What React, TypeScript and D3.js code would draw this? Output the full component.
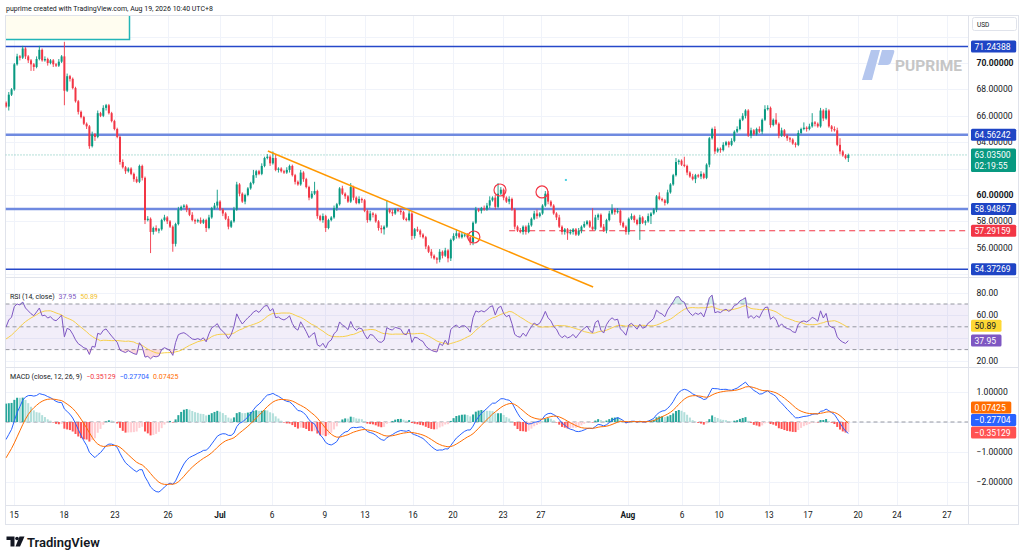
import { useEffect, useRef } from "react"
import * as d3 from "d3"

// 4H closes, Jun 15 -> Aug 19
const juneCloses = [
  66.7, 67.6, 68.0, 69.9, 70.5, 70.4, 71.1, 70.5, 70.2, 69.9,
  69.7, 70.3, 71.0, 70.2, 70.3, 70.0, 70.2, 69.9, 69.8, 70.1,
  70.5, 67.9, 69.0, 68.8, 68.1, 67.1, 66.3, 65.9, 65.4, 65.2,
  63.7, 64.6, 64.4, 66.2, 66.0, 66.6, 66.8, 66.2, 65.6, 65.0,
  64.4, 62.5, 62.1, 61.8, 62.0, 61.6, 61.2, 61.0, 62.2, 61.3,
  58.1, 58.2, 57.2, 57.5, 57.3, 57.4, 58.1, 58.3, 58.0, 57.6,
  56.3, 57.8, 58.9, 59.1, 59.2, 58.9, 58.5, 58.1, 58.0, 58.1,
  57.9, 58.1, 57.5, 58.3, 59.0, 59.2, 59.5,
]
const julyCloses = [
  58.9, 58.6, 58.2, 57.6, 58.0, 58.9, 60.8, 60.1, 59.5, 60.0,
  60.5, 60.9, 61.5, 61.8, 61.6, 62.2, 62.8, 62.9, 62.4, 62.8,
  61.9, 62.0, 61.8, 61.7, 61.9, 62.2, 61.5, 61.0, 60.8, 61.7,
  61.2, 60.6, 59.8, 60.1, 60.3, 58.4, 58.1, 58.4, 57.5, 58.1,
  58.3, 59.0, 59.3, 60.5, 60.1, 59.9, 59.5, 60.6, 59.8, 59.4,
  59.7, 59.6, 58.8, 58.1, 58.6, 58.5, 58.0, 57.5, 57.4, 57.6,
  58.9, 58.7, 58.6, 58.9, 58.8, 58.7, 58.2, 58.1, 58.6, 56.9,
  57.4, 57.3, 57.0, 56.8, 56.1, 55.7, 55.4, 55.2, 55.1, 55.7,
  55.4, 55.8, 55.2, 56.6, 56.9, 57.1, 56.8, 57.0, 57.0, 56.8,
  56.4, 57.9, 58.9, 58.8, 59.0, 58.9, 59.2, 59.6, 59.8, 59.1,
  60.1, 60.4, 59.8, 59.5, 59.7, 58.9, 57.6, 57.3, 57.2, 57.6,
  57.2, 57.7, 58.2, 58.6, 58.4, 58.6, 59.2, 60.1, 59.5, 59.2,
  58.6, 58.3, 57.6, 57.2, 57.4, 57.1, 57.2, 57.4, 57.0, 57.3,
  57.6, 57.8, 58.0, 57.6, 57.4, 58.3, 58.5, 57.6, 57.3, 58.1,
  58.6, 58.9, 58.7, 58.8, 57.9, 57.6, 57.2,
]
const augCloses = [
  58.2, 58.4, 58.1, 57.8, 58.3, 57.9, 58.0, 58.4, 58.6, 58.9,
  59.9, 59.7, 59.6, 59.4, 60.2, 60.8, 61.5, 62.5, 62.6, 62.3,
  62.2, 61.7, 61.4, 61.2, 61.5, 61.4, 61.6, 61.3, 62.3, 64.3,
  65.0, 63.3, 63.5, 63.4, 63.8, 64.0, 63.8, 64.1, 64.8, 65.0,
  65.7, 66.0, 66.4, 64.5, 64.9, 64.6, 65.0, 64.8, 65.7, 66.5,
  66.6, 65.3, 65.7, 65.4, 64.5, 64.9, 64.5, 64.3, 64.2, 63.9,
  63.8, 64.7, 65.0, 65.1, 65.0, 65.2, 65.5, 65.4, 65.2, 66.4,
  65.8, 66.4, 65.2, 65.0, 64.9, 63.8, 63.3, 63.0, 62.8, 63.035,
]
const firstOpen = 67.0

// wick lengths in tenths of a dollar
const juneUpWicks = [
  1, 2, 1, 1, 2, 1, 2, 1, 1, 1, 1, 2, 3, 1, 2, 1, 1, 1, 1, 2,
  1, 11, 2, 1, 1, 1, 1, 1, 1, 1, 1, 2, 1, 2, 1, 2, 1, 1, 1, 1,
  1, 1, 2, 1, 1, 1, 1, 2, 1, 1, 1, 2, 1, 1, 2, 1, 1, 2, 1, 1,
  1, 1, 2, 1, 1, 1, 1, 2, 1, 1, 2, 1, 1, 2, 1, 2, 9,
]
const juneDownWicks = [
  1, 3, 1, 1, 1, 2, 1, 2, 2, 5, 3, 1, 1, 1, 1, 2, 1, 2, 1, 1,
  1, 11, 1, 2, 1, 1, 2, 1, 1, 2, 2, 1, 3, 1, 1, 1, 2, 1, 1, 1,
  1, 2, 1, 2, 1, 1, 2, 1, 1, 2, 3, 1, 16, 2, 1, 2, 1, 1, 2, 1,
  6, 2, 1, 1, 1, 2, 1, 1, 2, 1, 1, 1, 3, 1, 1, 1, 2,
]
const julyUpWicks = [
  1, 1, 1, 2, 1, 2, 2, 1, 1, 1, 1, 1, 4, 1, 1, 2, 1, 2, 1, 5,
  3, 1, 1, 1, 2, 1, 1, 1, 1, 2, 1, 1, 1, 2, 7, 1, 1, 2, 1, 1,
  1, 2, 1, 1, 2, 1, 1, 3, 1, 1, 2, 1, 1, 1, 2, 1, 1, 1, 2, 1,
  7, 1, 2, 1, 1, 2, 1, 1, 2, 1, 1, 2, 1, 1, 1, 1, 2, 1, 1, 2,
  1, 2, 1, 1, 2, 3, 1, 2, 1, 1, 1, 1, 2, 1, 1, 2, 2, 3, 1, 2,
  8, 2, 1, 1, 2, 1, 1, 1, 2, 1, 1, 2, 1, 2, 3, 1, 1, 2, 2, 1,
  1, 1, 2, 1, 1, 1, 2, 1, 1, 2, 1, 2, 1, 1, 14, 2, 1, 1, 2, 1,
  2, 4, 1, 2, 1, 1, 1,
]
const julyDownWicks = [
  1, 2, 1, 2, 1, 1, 1, 2, 1, 2, 1, 1, 1, 2, 1, 1, 1, 1, 2, 1,
  1, 2, 1, 1, 1, 2, 1, 2, 1, 1, 2, 1, 2, 1, 1, 2, 1, 2, 3, 1,
  1, 1, 2, 1, 1, 2, 1, 1, 2, 1, 1, 2, 1, 2, 1, 2, 1, 2, 3, 4,
  1, 1, 2, 1, 1, 2, 1, 1, 1, 3, 2, 1, 2, 1, 2, 1, 2, 1, 3, 2,
  2, 1, 3, 2, 1, 2, 1, 1, 2, 1, 2, 2, 1, 1, 2, 1, 1, 2, 1, 2,
  1, 1, 2, 1, 2, 1, 2, 1, 1, 2, 2, 1, 1, 1, 2, 1, 1, 1, 2, 1,
  1, 2, 1, 2, 2, 5, 1, 2, 1, 1, 2, 1, 1, 1, 1, 1, 2, 1, 1, 2,
  1, 1, 2, 1, 2, 1, 2,
]
const augUpWicks = [
  1, 2, 1, 1, 2, 1, 1, 2, 1, 1, 1, 3, 1, 1, 2, 1, 1, 3, 1, 1,
  6, 1, 1, 2, 1, 1, 2, 1, 1, 1, 1, 2, 1, 1, 2, 1, 1, 2, 1, 2,
  1, 2, 1, 1, 2, 1, 1, 2, 1, 3, 2, 1, 1, 5, 1, 2, 1, 1, 1, 1,
  1, 2, 1, 4, 1, 2, 7, 1, 1, 2, 1, 2, 1, 1, 2, 2, 5, 1, 1, 1,
]
const augDownWicks = [
  2, 1, 2, 1, 12, 1, 2, 1, 6, 1, 2, 1, 1, 2, 1, 1, 1, 1, 2, 1,
  1, 2, 1, 1, 3, 1, 2, 1, 1, 2, 1, 2, 1, 2, 1, 1, 2, 1, 1, 1,
  1, 1, 2, 1, 2, 1, 1, 1, 2, 1, 1, 2, 1, 1, 2, 1, 1, 2, 2, 1,
  2, 1, 1, 1, 2, 1, 1, 2, 1, 1, 2, 1, 1, 2, 1, 1, 2, 1, 1, 3,
]

// indicator state carried in from before the visible range
const macdSeed = { fast: 65.9, slow: 66.6, signal: -1.35 }
const rsiSeed = { gain: 0.26, loss: 0.24 }
const rsiMaPrior = [34, 33, 35, 36, 35, 37, 38, 40, 39, 41, 43, 44, 46]

const timeLabels = ["15", "18", "23", "26", "Jul", "6", "9", "13", "16", "20", "23", "27", "Aug", "6", "10", "13", "17", "20", "24", "27"]
const timeBars = [2.9, 20.9, 39.2, 58.3, 77, 95.7, 114.7, 129.1, 146.4, 160.8, 178.8, 192.4, 223.7, 243.2, 256.5, 274.5, 288.5, 306.5, 320.5, 338.5]
const monthLabels = ["Jul", "Aug"]

const priceGrid = [72, 70, 68, 66, 64, 62, 60, 58, 56, 54]
const priceTicks = [70, 68, 66, 64, 60, 58, 56]
const boldPriceTicks = [70, 60]
const rsiGrid = [80, 60, 40, 20]
const rsiTicks = [80, 60, 20]
const macdGrid = [1, 0, -1, -2]
const macdTicks = [1, -1, -2]

const levelLines = [71.24388, 64.56242, 58.94867, 54.37269]
const softLevels = [64.56242, 58.94867]
const supportLevel = 57.29159
const supportFromBar = 181
const lastPrice = 63.035
const countdown = "02:19:55"

const trendBars = [94.2, 211.2]
const trendPrices = [63.33, 53.03]
const circleBars = [168.3, 177.7, 192.8]
const circlePrices = [56.82, 60.38, 60.23]
const markerBar = 201.4
const markerPrice = 61.14

const rsiLast = 37.95
const rsiMaLast = 50.89
const macdHistLast = -0.35129
const macdLast = -0.27704
const signalLast = 0.07425

const FONT = "Roboto, 'Noto Sans', sans-serif"
const UP = "#089981"
const DOWN = "#f23645"

const App = () => {
  const chartRef = useRef<SVGSVGElement>(null)

  useEffect(() => {
    const svg = d3.select(chartRef.current)
    svg.selectAll("*").remove()

    const closes = [...juneCloses, ...julyCloses, ...augCloses]
    const upWicks = [...juneUpWicks, ...julyUpWicks, ...augUpWicks]
    const downWicks = [...juneDownWicks, ...julyDownWicks, ...augDownWicks]

    const candles = closes.map((c, i) => {
      const o = i === 0 ? firstOpen : closes[i - 1]
      return { i, o, c, h: Math.max(o, c) + upWicks[i] / 10, l: Math.min(o, c) - downWicks[i] / 10 }
    })

    // RSI 14 (Wilder) + SMA 14
    let ag = rsiSeed.gain
    let al = rsiSeed.loss
    const rsi = closes.map((c, i) => {
      const ch = c - (i === 0 ? firstOpen : closes[i - 1])
      ag = (ag * 13 + Math.max(ch, 0)) / 14
      al = (al * 13 + Math.max(-ch, 0)) / 14
      return 100 - 100 / (1 + ag / al)
    })
    const rsiAll = [...rsiMaPrior, ...rsi]
    const rsiMa = rsi.map((_, i) => d3.mean(rsiAll.slice(i, i + 14)) as number)

    // MACD 12 26 9
    let e12 = macdSeed.fast
    let e26 = macdSeed.slow
    let sig = macdSeed.signal
    const macd = closes.map((c) => {
      e12 += ((c - e12) * 2) / 13
      e26 += ((c - e26) * 2) / 27
      const m = e12 - e26
      sig += (m - sig) * 0.2
      return { m, s: sig, h: m - sig }
    })

    // scales
    const x = d3.scaleLinear().domain([0, 303]).range([6, 6 + 2.78 * 303])
    const yP = d3.scaleLinear().domain([54, 72]).range([274.2, 36.6])
    const yR = d3.scaleLinear().domain([20, 80]).range([361, 292.6])
    const yM = d3.scaleLinear().domain([-2, 1]).range([482, 392])

    const left = 5.5
    const plotRight = 968
    const frameRight = 1018.5
    const mainTop = 15.5
    const mainBottom = 277
    const rsiBottom = 367
    const macdBottom = 505
    const frameBottom = 524.5

    svg.append("rect").attr("width", 1024).attr("height", 558).attr("fill", "#ffffff")

    const defs = svg.append("defs")
    const clip = (id: string, y0: number, y1: number) =>
      defs.append("clipPath").attr("id", id).append("rect")
        .attr("x", left).attr("y", y0).attr("width", plotRight - left).attr("height", y1 - y0)
    clip("clip-main", mainTop, mainBottom)
    clip("clip-rsi", mainBottom, rsiBottom)
    clip("clip-macd", rsiBottom, macdBottom)
    defs.append("clipPath").attr("id", "clip-axis").append("rect")
      .attr("x", plotRight).attr("y", 33).attr("width", 60).attr("height", mainBottom - 33)

    const grid = svg.append("g").attr("stroke", "#f0f3fa").attr("stroke-width", 1)

    // vertical grid
    timeBars.forEach((b) => {
      const gx = Math.round(x(b)) + 0.5
      grid.append("line").attr("x1", gx).attr("x2", gx).attr("y1", mainTop).attr("y2", macdBottom)
    })
    // horizontal grid
    priceGrid.forEach((p) => {
      const gy = Math.round(yP(p)) + 0.5
      grid.append("line").attr("x1", left).attr("x2", plotRight).attr("y1", gy).attr("y2", gy)
    })
    rsiGrid.forEach((r) => {
      const gy = Math.round(yR(r)) + 0.5
      grid.append("line").attr("x1", left).attr("x2", plotRight).attr("y1", gy).attr("y2", gy)
    })
    macdGrid.forEach((m) => {
      const gy = Math.round(yM(m)) + 0.5
      grid.append("line").attr("x1", left).attr("x2", plotRight).attr("y1", gy).attr("y2", gy)
    })

    // pane borders
    const border = svg.append("g").attr("stroke", "#e0e3eb").attr("stroke-width", 1).attr("fill", "none")
    border.append("rect").attr("x", left).attr("y", mainTop).attr("width", frameRight - left).attr("height", frameBottom - mainTop)
    ;[mainBottom, rsiBottom].forEach((yy) =>
      border.append("line").attr("x1", left).attr("x2", frameRight).attr("y1", yy + 0.5).attr("y2", yy + 0.5))
    border.append("line").attr("x1", left).attr("x2", frameRight).attr("y1", macdBottom + 0.5).attr("y2", macdBottom + 0.5)
    border.append("line").attr("x1", plotRight + 0.5).attr("x2", plotRight + 0.5).attr("y1", mainTop).attr("y2", frameBottom)

    // ---------- main pane ----------
    const main = svg.append("g").attr("clip-path", "url(#clip-main)")

    // legend placeholder box
    main.append("rect").attr("x", 6).attr("y", 16).attr("width", 123).attr("height", 23).attr("fill", "#fffdf0")
    main.append("path").attr("d", "M6,39.5 H129.5 V16").attr("fill", "none").attr("stroke", "#22b5b8").attr("stroke-width", 1.5)

    // watermark
    const wm = svg.append("g")
    wm.append("path").attr("d", "M871,50 L880,50 L872,80 L862,80 Z").attr("fill", "#b4c6ee")
    wm.append("path").attr("d", "M882,50 L893,50 Q895,50 894,53 L891,62 Q890,65 887,65 L878,65 Z").attr("fill", "#b4c6ee")
    wm.append("text").attr("x", 895).attr("y", 71).attr("font-family", FONT).attr("font-size", 15.5)
      .attr("font-weight", 700).attr("fill", "#c6c6c6").text("PUPRIME")

    // horizontal levels
    levelLines.forEach((p) => {
      const soft = softLevels.includes(p)
      main.append("line").attr("x1", left).attr("x2", plotRight).attr("y1", yP(p)).attr("y2", yP(p))
        .attr("stroke", soft ? "#6f8ae0" : "#2648c9").attr("stroke-width", soft ? 2.5 : 1.5)
    })
    main.append("line").attr("x1", x(supportFromBar)).attr("x2", plotRight)
      .attr("y1", yP(supportLevel)).attr("y2", yP(supportLevel))
      .attr("stroke", DOWN).attr("stroke-width", 1.2).attr("stroke-dasharray", "6,4")
    main.append("line").attr("x1", left).attr("x2", plotRight)
      .attr("y1", yP(lastPrice)).attr("y2", yP(lastPrice))
      .attr("stroke", UP).attr("stroke-opacity", 0.6).attr("stroke-width", 1).attr("stroke-dasharray", "1,2")

    // candles
    const cg = main.append("g")
    cg.selectAll("line.wick").data(candles).join("line").attr("class", "wick")
      .attr("x1", (d) => x(d.i)).attr("x2", (d) => x(d.i))
      .attr("y1", (d) => yP(d.h)).attr("y2", (d) => yP(d.l))
      .attr("stroke", (d) => (d.c >= d.o ? UP : DOWN)).attr("stroke-width", 0.9)
    cg.selectAll("rect.body").data(candles).join("rect").attr("class", "body")
      .attr("x", (d) => x(d.i) - 1).attr("width", 2)
      .attr("y", (d) => yP(Math.max(d.o, d.c)))
      .attr("height", (d) => Math.max(1, Math.abs(yP(d.o) - yP(d.c))))
      .attr("fill", (d) => (d.c >= d.o ? UP : DOWN))

    // annotations
    svg.append("line")
      .attr("x1", x(trendBars[0])).attr("y1", yP(trendPrices[0]))
      .attr("x2", x(trendBars[1])).attr("y2", yP(trendPrices[1]))
      .attr("stroke", "#ff9800").attr("stroke-width", 1.5)
    circleBars.forEach((b, k) => {
      main.append("circle").attr("cx", x(b)).attr("cy", yP(circlePrices[k])).attr("r", 6)
        .attr("fill", "none").attr("stroke", DOWN).attr("stroke-width", 1.2)
    })
    main.append("rect").attr("x", x(markerBar) - 1).attr("y", yP(markerPrice) - 1)
      .attr("width", 2).attr("height", 2).attr("fill", "#4dd0e1")

    // ---------- RSI pane ----------
    const rp = svg.append("g").attr("clip-path", "url(#clip-rsi)")
    rp.append("rect").attr("x", left).attr("width", plotRight - left)
      .attr("y", yR(70)).attr("height", yR(30) - yR(70)).attr("fill", "#7e57c2").attr("fill-opacity", 0.1)
    ;[70, 50, 30].forEach((r) => {
      rp.append("line").attr("x1", left).attr("x2", plotRight).attr("y1", yR(r)).attr("y2", yR(r))
        .attr("stroke", "#9598a1").attr("stroke-width", 1).attr("stroke-dasharray", "4,3")
    })
    rp.append("path").datum(rsi)
      .attr("d", d3.area<number>().x((_, i) => x(i)).y0(yR(30)).y1((r) => yR(Math.min(r, 30))))
      .attr("fill", DOWN).attr("fill-opacity", 0.18)
    rp.append("path").datum(rsi)
      .attr("d", d3.area<number>().x((_, i) => x(i)).y0(yR(70)).y1((r) => yR(Math.max(r, 70))))
      .attr("fill", UP).attr("fill-opacity", 0.18)
    rp.append("path").datum(rsiMa)
      .attr("d", d3.line<number>().x((_, i) => x(i)).y((r) => yR(r)))
      .attr("fill", "none").attr("stroke", "#f7cf4a").attr("stroke-width", 1)
    rp.append("path").datum(rsi)
      .attr("d", d3.line<number>().x((_, i) => x(i)).y((r) => yR(r)))
      .attr("fill", "none").attr("stroke", "#7e57c2").attr("stroke-width", 1)

    // ---------- MACD pane ----------
    const mp = svg.append("g").attr("clip-path", "url(#clip-macd)")
    mp.append("line").attr("x1", left).attr("x2", plotRight).attr("y1", yM(0)).attr("y2", yM(0))
      .attr("stroke", "#9598a1").attr("stroke-width", 1).attr("stroke-dasharray", "4,3")
    mp.selectAll("rect").data(macd).join("rect")
      .attr("x", (_, i) => x(i) - 1).attr("width", 2)
      .attr("y", (d) => yM(Math.max(d.h, 0)))
      .attr("height", (d) => Math.max(0.5, Math.abs(yM(d.h) - yM(0))))
      .attr("fill", (d, i) => {
        const prev = i === 0 ? d.h : macd[i - 1].h
        if (d.h >= 0) return d.h >= prev ? "#26a69a" : "#b2dfdb"
        return d.h <= prev ? "#ff5252" : "#ffcdd2"
      })
    mp.append("path").datum(macd)
      .attr("d", d3.line<{ m: number }>().x((_, i) => x(i)).y((d) => yM(d.m)))
      .attr("fill", "none").attr("stroke", "#2962ff").attr("stroke-width", 1)
    mp.append("path").datum(macd)
      .attr("d", d3.line<{ s: number }>().x((_, i) => x(i)).y((d) => yM(d.s)))
      .attr("fill", "none").attr("stroke", "#ff6d00").attr("stroke-width", 1)

    // ---------- legends ----------
    const txt = (xx: number, yy: number, s: string, size: number, fill = "#131722", weight = 400) =>
      svg.append("text").attr("x", xx).attr("y", yy).attr("font-family", FONT).attr("font-size", size)
        .attr("font-weight", weight).attr("fill", fill).text(s)

    txt(6, 11, "puprime created with TradingView.com, Aug 19, 2026 10:40 UTC+8", 7)

    const rl = svg.append("text").attr("x", 10).attr("y", 298.5).attr("font-family", FONT).attr("font-size", 7)
    rl.append("tspan").attr("fill", "#131722").text("RSI (14, close)")
    rl.append("tspan").attr("dx", 4).attr("fill", "#7e57c2").text(rsiLast.toFixed(2))
    rl.append("tspan").attr("dx", 4).attr("fill", "#f2c231").text(rsiMaLast.toFixed(2))

    const ml = svg.append("text").attr("x", 10).attr("y", 378.5).attr("font-family", FONT).attr("font-size", 7)
    ml.append("tspan").attr("fill", "#131722").text("MACD (close, 12, 26, 9)")
    ml.append("tspan").attr("dx", 4).attr("fill", "#f23645").text(macdHistLast.toFixed(5).replace("-", "−"))
    ml.append("tspan").attr("dx", 4).attr("fill", "#2962ff").text(macdLast.toFixed(5).replace("-", "−"))
    ml.append("tspan").attr("dx", 4).attr("fill", "#ff6d00").text(signalLast.toFixed(5))

    // ---------- right axis ----------
    const axis = svg.append("g").attr("clip-path", "url(#clip-axis)")
    priceTicks.forEach((p) => {
      axis.append("text").attr("x", 976.5).attr("y", yP(p) + 3).attr("font-family", FONT).attr("font-size", 8.6)
        .attr("font-weight", boldPriceTicks.includes(p) ? 700 : 400).attr("fill", "#131722").text(p.toFixed(5))
    })
    rsiTicks.forEach((r) => txt(976.5, yR(r) + 3, r.toFixed(2), 8.6))
    macdTicks.forEach((m) => txt(976.5, yM(m) + 3, m.toFixed(5).replace("-", "−"), 8.6))

    svg.append("rect").attr("x", 972.5).attr("y", 17.5).attr("width", 44).attr("height", 13).attr("rx", 2)
      .attr("fill", "#ffffff").attr("stroke", "#e0e3eb")
    txt(977, 26.5, "USD", 6.5)

    const tag = (cy: number, s: string, bg: string, fg = "#ffffff") => {
      svg.append("rect").attr("x", 971).attr("y", cy - 6).attr("width", s.length * 4.9 + 6).attr("height", 12)
        .attr("rx", 1.5).attr("fill", bg)
      txt(974.5, cy + 3.1, s, 8.6, fg)
    }
    tag(yP(levelLines[0]), levelLines[0].toFixed(5), "#1f45c5")
    tag(yP(levelLines[1]), levelLines[1].toFixed(5), "#1f45c5")
    tag(yP(levelLines[2]), levelLines[2].toFixed(5), "#1f45c5")
    tag(yP(supportLevel), supportLevel.toFixed(5), "#f23645")
    tag(yP(levelLines[3]), levelLines[3].toFixed(5), "#1f45c5")

    // last price with countdown
    const ly = yP(lastPrice)
    svg.append("rect").attr("x", 971).attr("y", ly - 6.5).attr("width", 45).attr("height", 23.5).attr("rx", 1.5).attr("fill", UP)
    txt(974.5, ly + 3.1, lastPrice.toFixed(5), 8.6, "#ffffff")
    txt(974.5, ly + 14, countdown, 8.6, "#ffffff")

    tag(yR(rsiMaLast), rsiMaLast.toFixed(2), "#fdd835", "#131722")
    tag(yR(rsiLast), rsiLast.toFixed(2), "#7e57c2")

    // MACD tags are pushed up so they do not overlap
    const yHist = yM(macdHistLast)
    const yMacd = Math.min(yM(macdLast), yHist - 12.5)
    const ySig = Math.min(yM(signalLast), yMacd - 12.5)
    tag(ySig, signalLast.toFixed(5), "#ff6d00")
    tag(yMacd, macdLast.toFixed(5).replace("-", "−"), "#2962ff")
    tag(yHist, macdHistLast.toFixed(5).replace("-", "−"), "#ff5252")

    // ---------- time axis ----------
    timeLabels.forEach((t, k) => {
      svg.append("text").attr("x", x(timeBars[k])).attr("y", 517.5).attr("text-anchor", "middle")
        .attr("font-family", FONT).attr("font-size", 8.3)
        .attr("font-weight", monthLabels.includes(t) ? 700 : 400).attr("fill", "#131722").text(t)
    })

    // ---------- TradingView logo ----------
    const logo = svg.append("g").attr("fill", "#131722")
    logo.append("path").attr("d", "M6.5,536.5 H14.5 V546.5 H10.5 V540 H6.5 Z")
    logo.append("circle").attr("cx", 17).attr("cy", 538.5).attr("r", 1.8)
    logo.append("path").attr("d", "M19.5,536.5 H24.5 L20,546.5 H15.5 Z")
    txt(27, 546.5, "TradingView", 13, "#131722", 600)
  }, [])

  return (
    <div style={{ position: "absolute", left: 0, top: 0 }}>
      <svg ref={chartRef} width={1024} height={558}></svg>
    </div>
  )
}

export default App
